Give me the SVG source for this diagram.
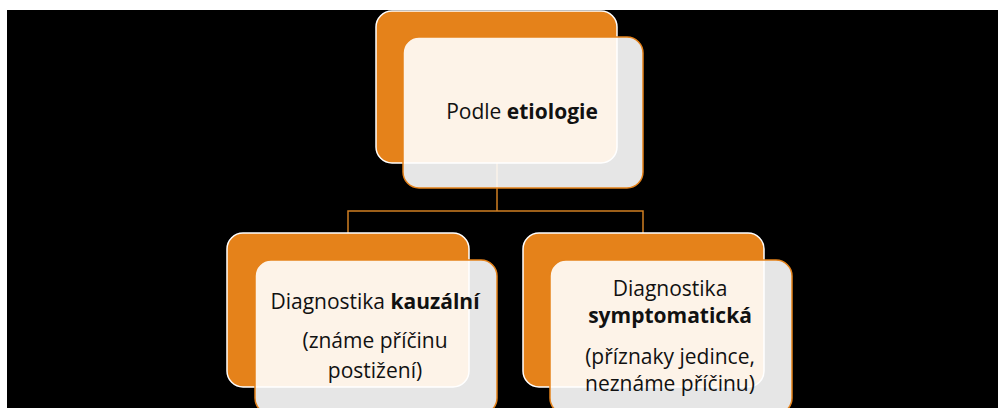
<svg xmlns="http://www.w3.org/2000/svg" width="1000" height="408" viewBox="0 0 1000 408">
<style>
.back{fill:#E5821A;stroke:#FFFFFF;stroke-width:1.5}
.front{fill:#FFFFFF;fill-opacity:0.9;stroke:#E5821A;stroke-width:1.5}
.conn{fill:none;stroke:#D07F22;stroke-width:1.5}
text{font-family:"Open Sans","Liberation Sans",sans-serif;font-size:21px;fill:#111111;text-anchor:middle}
.b{font-weight:bold}
</style>
<rect x="0" y="0" width="1000" height="408" fill="#FFFFFF"/>
<rect x="7" y="10" width="991" height="398" fill="#000000"/>
<g id="connectors">
<path class="conn" d="M497,163 V211 M348,233 V211 H643 V233"/>
</g>
<g id="node-top">
<rect class="back" x="376" y="11" width="241" height="152" rx="16"/>
<rect class="front" x="403" y="37" width="240" height="151" rx="16"/>
<text x="522" y="119">Podle <tspan class="b">etiologie</tspan></text>
</g>
<g id="node-left">
<rect class="back" x="227" y="233" width="242" height="154" rx="16"/>
<rect class="front" x="255" y="260" width="242" height="154" rx="16"/>
<text x="375" y="309">Diagnostika <tspan class="b">kauzální</tspan></text>
<text x="375" y="348">(známe příčinu</text>
<text x="375" y="378">postižení)</text>
</g>
<g id="node-right">
<rect class="back" x="523" y="233" width="241" height="154" rx="16"/>
<rect class="front" x="550" y="260" width="242" height="154" rx="16"/>
<text x="670" y="296">Diagnostika</text>
<text x="670" y="323" class="b">symptomatická</text>
<text x="670" y="364">(příznaky jedince,</text>
<text x="670" y="391">neznáme příčinu)</text>
</g>
</svg>
